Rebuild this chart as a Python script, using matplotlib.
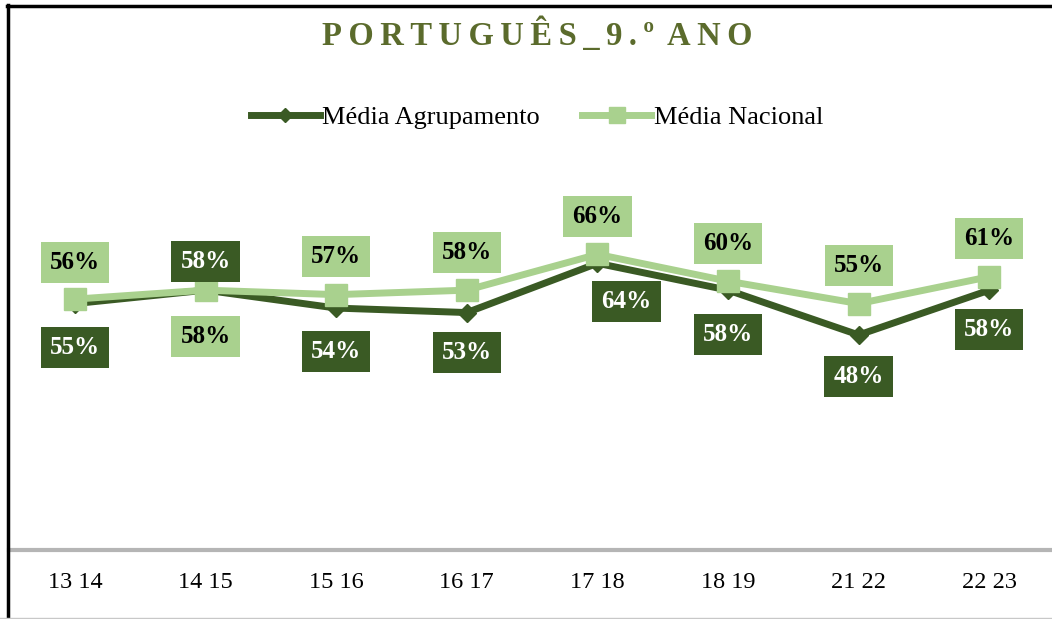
import matplotlib.pyplot as plt
from matplotlib.lines import Line2D

# Dados
anos = ["13 14", "14 15", "15 16", "16 17", "17 18", "18 19", "21 22", "22 23"]
media_agrupamento = [55, 58, 54, 53, 64, 58, 48, 58]
media_nacional = [56, 58, 57, 58, 66, 60, 55, 61]

c_escuro = "#3a5a24"
c_claro = "#a9d18e"
c_titulo = "#5b6b2c"

plt.rcParams["font.family"] = ["Liberation Serif", "DejaVu Serif"]

fig = plt.figure(figsize=(10.52, 6.19), dpi=100)
W, H = 1052, 619
ax = fig.add_axes([9 / W, 69 / H, (W - 9) / W, 448 / H])

x = list(range(len(anos)))
ax.plot(x, media_agrupamento, color=c_escuro, lw=5, marker="D", ms=9,
        solid_joinstyle="miter", zorder=3, label="Média Agrupamento")
ax.plot(x, media_nacional, color=c_claro, lw=5, marker="s", ms=16,
        zorder=4, label="Média Nacional")

ax.set_xlim(-0.505, 7.48)
ax.set_ylim(0, 100)
ax.set_xticks(x)
ax.set_xticklabels(anos, fontsize=17.5)
ax.tick_params(axis="x", length=0, pad=16)
ax.set_yticks([])
for s in ["top", "right", "left"]:
    ax.spines[s].set_visible(False)
ax.spines["bottom"].set_color("#b5b5b5")
ax.spines["bottom"].set_linewidth(3)
ax.patch.set_alpha(0)

# offsets das etiquetas (pixels)
off_nac = [(0, 37), (0, -46), (0, 38), (0, 38), (0, 38), (0, 38), (0, 38), (0, 38)]
off_agr = [(0, -44), (0, 29), (0, -43), (0, -40), (29, -38), (0, -44), (0, -42), (0, -39)]

for i in x:
    ax.annotate(f"{media_nacional[i]}%", (i, media_nacional[i]), xytext=off_nac[i],
                textcoords="offset pixels", ha="center", va="center",
                fontsize=18, fontweight="bold", color="black", zorder=5,
                bbox=dict(boxstyle="square,pad=0.36", fc=c_claro, ec="none"))
    ax.annotate(f"{media_agrupamento[i]}%", (i, media_agrupamento[i]), xytext=off_agr[i],
                textcoords="offset pixels", ha="center", va="center",
                fontsize=18, fontweight="bold", color="white", zorder=5,
                bbox=dict(boxstyle="square,pad=0.36", fc=c_escuro, ec="none"))

fig.text(537 / W, 1 - 35 / H, "P\u2009O\u2009R\u2009T\u2009U\u2009G\u2009U\u2009Ê\u2009S\u2009_\u20099\u2009.\u2009º\u2009 A\u2009N\u2009O",
         ha="center", va="center", fontsize=23.5, fontweight="bold", color=c_titulo)

handles = [Line2D([], [], color=c_escuro, lw=5, marker="D", ms=7),
           Line2D([], [], color=c_claro, lw=5, marker="s", ms=11)]
fig.legend(handles, ["Média Agrupamento", "Média Nacional"], loc="center",
           bbox_to_anchor=(537 / W, 1 - 117 / H), ncol=2, frameon=False,
           fontsize=19, handlelength=2.6, handletextpad=0.1, columnspacing=1.6)

# moldura
fig.add_artist(Line2D([7 / W, 1], [1 - 6 / H, 1 - 6 / H], color="black", lw=2.5))
fig.add_artist(Line2D([8 / W, 8 / W], [0, 1 - 5 / H], color="black", lw=2.5))
fig.add_artist(Line2D([0, 1], [1.5 / H, 1.5 / H], color="#c8c8c8", lw=1))

fig.savefig("out.png", dpi=100)
